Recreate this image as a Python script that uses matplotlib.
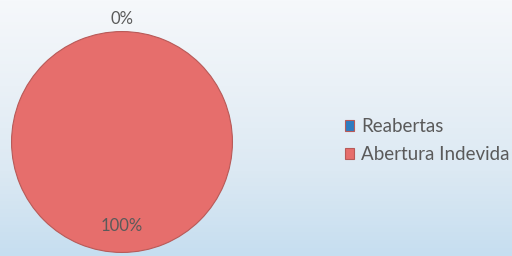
import matplotlib
matplotlib.use('Agg')
import matplotlib.pyplot as plt
from matplotlib.colors import LinearSegmentedColormap
import numpy as np

# Dados do gráfico
categorias = ["Reabertas", "Abertura Indevida"]
valores = [0, 100]
cores = ["#2f7cc0", "#e66e6c"]

plt.rcParams['font.family'] = ['Lato', 'DejaVu Sans']

fig = plt.figure(figsize=(5.12, 2.56), dpi=100)

# Fundo em degradê (branco -> azul claro)
bg = fig.add_axes([0, 0, 1, 1])
grad = np.linspace(0, 1, 256).reshape(-1, 1)
cmap = LinearSegmentedColormap.from_list("fundo", ["#f6f8fb", "#eaf1f7", "#dce9f3", "#c6def0"])
bg.imshow(grad, aspect='auto', cmap=cmap, extent=[0, 1, 0, 1], origin='upper')
bg.axis('off')

# Pizza
ax = fig.add_axes([11 / 512, 3 / 256, 222 / 512, 222 / 256])
wedges, _ = ax.pie(valores, colors=cores, startangle=90, counterclock=False,
                   wedgeprops=dict(edgecolor="#b85a58", linewidth=0.8))
ax.set_xlim(-1.005, 1.005)
ax.set_ylim(-1.005, 1.005)
ax.set_aspect('equal')

# Rótulos de percentagem
total = sum(valores)
for w, v in zip(wedges, valores):
    ang = np.deg2rad((w.theta1 + w.theta2) / 2)
    d = 1.115 if v == 0 else 0.765
    ax.text(d * np.cos(ang), d * np.sin(ang), f"{v / total * 100:.0f}%",
            ha='center', va='center', fontsize=12, color="#5a5a5a", clip_on=False)

leg = fig.legend(wedges, categorias, loc='center left', bbox_to_anchor=(0.674, 0.45),
                 frameon=False, fontsize=13.5, handlelength=0.5, handleheight=0.5,
                 handletextpad=0.35, labelspacing=0.6, labelcolor="#5a5a5a",
                 borderaxespad=0, borderpad=0)

fig.savefig("out.png", dpi=100)
